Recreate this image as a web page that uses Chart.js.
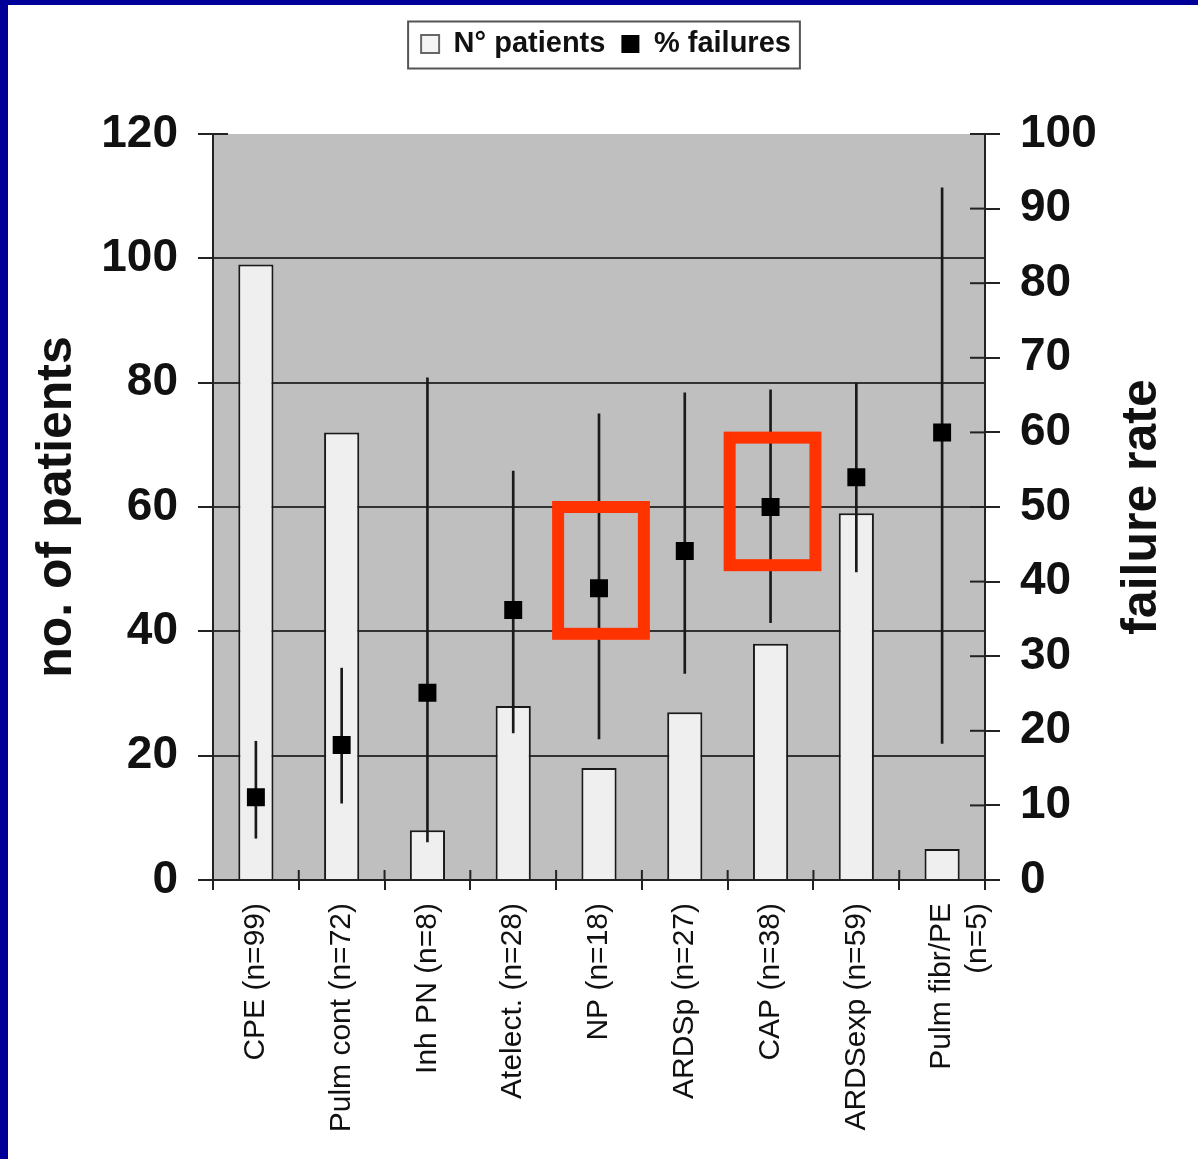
<!DOCTYPE html>
<html>
<head>
<meta charset="utf-8">
<script src="https://cdn.jsdelivr.net/npm/chart.js@4.4.1/dist/chart.umd.min.js"></script>
<style>
  html, body { margin: 0; padding: 0; background: #ffffff; width: 1198px; height: 1159px; overflow: hidden; }
  #wrap { position: relative; width: 1198px; height: 1159px; }
  #c { position: absolute; left: 0; top: 0; }
  .band-top { position: absolute; left: 0; top: 0; width: 1198px; height: 5px; background: #000099; }
  .band-left { position: absolute; left: 0; top: 0; width: 8px; height: 1159px; background: #000099; }
</style>
</head>
<body>
<div id="wrap">
  <canvas id="c" width="1198" height="1159"></canvas>
  <div class="band-top"></div>
  <div class="band-left"></div>
</div>
<script>
// ---------- data ----------
const categories = ['CPE (n=99)', 'Pulm cont (n=72)', 'Inh PN (n=8)', 'Atelect. (n=28)', 'NP (n=18)',
                    'ARDSp (n=27)', 'CAP (n=38)', 'ARDSexp (n=59)', ['Pulm fibr/PE', '(n=5)']];
const patients     = [99, 72, 8, 28, 18, 27, 38, 59, 5];
const failureRate  = [11.1, 18.1, 25.1, 36.2, 39.1, 44.1, 50.0, 54.0, 60.0];
const failureLow   = [5.6, 10.3, 5.1, 19.7, 18.9, 27.7, 34.5, 41.3, 18.3];
const failureHigh  = [18.6, 28.4, 67.3, 54.8, 62.5, 65.3, 65.7, 66.6, 92.8];
const leftTicks    = [0, 20, 40, 60, 80, 100, 120];
const rightTicks   = [0, 10, 20, 30, 40, 50, 60, 70, 80, 90, 100];
const seriesNames  = ['N° patients', '% failures'];
const axisTitles   = ['no. of patients', 'failure rate'];
// highlighted (red frame) categories and their frame range on the failure-rate axis
const highlightCategories = ['NP (n=18)', 'CAP (n=38)'];
const highlightLow  = [33.0, 42.2];
const highlightHigh = [50.0, 59.3];

const FONT = "'Liberation Sans', Arial, Helvetica, sans-serif";
Chart.defaults.font.family = FONT;
Chart.defaults.color = '#111';

const ranges = failureLow.map((l, i) => [l, failureHigh[i]]);

const decor = {
  id: 'decor',
  beforeDraw(chart) {
    const { ctx, chartArea: a } = chart;
    ctx.save();
    ctx.fillStyle = '#bfbfbf';
    ctx.fillRect(a.left, a.top, a.right - a.left, a.bottom - a.top);
    ctx.restore();
  },
  afterDraw(chart) {
    const { ctx, chartArea: a, scales } = chart;
    const seg = (x1, y1, x2, y2) => { ctx.beginPath(); ctx.moveTo(x1, y1); ctx.lineTo(x2, y2); ctx.stroke(); };
    ctx.save();
    ctx.strokeStyle = '#222';
    ctx.lineWidth = 2;
    // inner halves of the crossing tick marks
    scales.y1.ticks.forEach((t, i) => { const p = scales.y1.getPixelForTick(i); seg(a.right - 15, p, a.right, p); });
    const pTop = scales.y.getPixelForValue(leftTicks[leftTicks.length - 1]);
    seg(a.left, pTop, a.left + 15, pTop);
    for (let i = 0; i <= categories.length; i++) {
      const p = scales.x.getPixelForValue(i - 0.5);
      seg(p, a.bottom - 10, p, a.bottom);
    }
    ctx.restore();

    // legend frame
    const lg = chart.legend;
    if (lg && lg.legendHitBoxes && lg.legendHitBoxes.length) {
      const hb = lg.legendHitBoxes;
      const l = Math.min(...hb.map(h => h.left));
      const r = Math.max(...hb.map(h => h.left + h.width));
      const t = Math.min(...hb.map(h => h.top));
      const b = Math.max(...hb.map(h => h.top + h.height));
      ctx.save();
      ctx.strokeStyle = '#555';
      ctx.lineWidth = 2;
      ctx.strokeRect(l - 13, t - 8, (r - l) + 22, (b - t) + 18);
      ctx.restore();
    }

    // right axis title (reads bottom-to-top)
    ctx.save();
    ctx.translate(a.right + 157, (a.top + a.bottom) / 2);
    ctx.rotate(-Math.PI / 2);
    ctx.font = 'bold 50px ' + FONT;
    ctx.fillStyle = '#111';
    ctx.textAlign = 'center';
    ctx.textBaseline = 'middle';
    ctx.fillText(axisTitles[1], 0, 0);
    ctx.restore();

    // red highlight frames
    const half = (scales.x.getPixelForValue(1) - scales.x.getPixelForValue(0)) / 2;
    ctx.save();
    ctx.strokeStyle = '#ff3300';
    ctx.lineWidth = 12;
    highlightCategories.forEach((name, k) => {
      const idx = categories.findIndex(c => c === name);
      const xc = scales.x.getPixelForValue(idx) + 2;
      const yt = scales.y1.getPixelForValue(highlightHigh[k]);
      const yb = scales.y1.getPixelForValue(highlightLow[k]);
      ctx.strokeRect(xc - half, yt, 2 * half, yb - yt);
    });
    ctx.restore();
  }
};

new Chart(document.getElementById('c'), {
  data: {
    labels: categories,
    datasets: [
      { type: 'bar', label: seriesNames[0], data: patients, yAxisID: 'y',
        backgroundColor: '#efefef', borderColor: '#1a1a1a', borderWidth: 2,
        categoryPercentage: 1, barPercentage: 0.41, grouped: false, order: 3 },
      { type: 'bar', label: 'range', data: ranges, yAxisID: 'y1',
        backgroundColor: '#1a1a1a', borderWidth: 0, barThickness: 2, grouped: false, order: 2 },
      { type: 'line', label: seriesNames[1], data: failureRate, yAxisID: 'y1', showLine: false,
        pointStyle: 'rect', pointRadius: 12.7, pointHoverRadius: 12.7,
        pointBackgroundColor: '#000', pointBorderWidth: 0, order: 1 }
    ]
  },
  options: {
    responsive: false,
    animation: false,
    devicePixelRatio: 1,
    layout: { padding: { top: 13.5, left: 14, right: 0, bottom: 0 } },
    plugins: {
      tooltip: { enabled: false },
      subtitle: { display: true, text: '', weight: 500, font: { size: 10 }, padding: { top: 0, bottom: 53.5 } },
      legend: {
        position: 'top',
        labels: {
          font: { size: 29, weight: 'bold' },
          color: '#111',
          boxWidth: 18, boxHeight: 18, padding: 16,
          generateLabels: (chart) => [
            { text: chart.data.datasets[0].label, fillStyle: '#f4f4f4', strokeStyle: '#666', lineWidth: 2, hidden: false, datasetIndex: 0, fontColor: '#111' },
            { text: chart.data.datasets[2].label, fillStyle: '#000', strokeStyle: '#000', lineWidth: 0, hidden: false, datasetIndex: 2, fontColor: '#111' }
          ]
        }
      }
    },
    scales: {
      x: {
        type: 'category',
        offset: true,
        grid: { offset: true, drawOnChartArea: false, tickLength: 10, color: '#222', lineWidth: 2 },
        border: { color: '#222', width: 2 },
        ticks: { font: { size: 30 }, color: '#111', minRotation: 90, maxRotation: 90, autoSkip: false, padding: 13 },
        afterFit(s) { s.height = 279; }
      },
      y: {
        position: 'left',
        min: 0, max: 120,
        afterBuildTicks(s) { s.ticks = leftTicks.map(v => ({ value: v })); },
        ticks: { font: { size: 46, weight: 'bold' }, color: '#111', padding: 20 },
        grid: {
          color: (c) => (c.tick && (c.tick.value === 0 || c.tick.value === 120)) ? 'rgba(0,0,0,0)' : '#333',
          tickColor: '#222', lineWidth: 2, tickLength: 15
        },
        border: { color: '#222', width: 2 },
        title: { display: true, text: axisTitles[0], font: { size: 50, weight: 'bold' }, color: '#111', padding: { top: 13, bottom: 0 } },
        afterFit(s) { s.width = 199; }
      },
      y1: {
        position: 'right',
        min: 0, max: 100,
        afterBuildTicks(s) { s.ticks = rightTicks.map(v => ({ value: v })); },
        ticks: { font: { size: 46, weight: 'bold' }, color: '#111', padding: 20 },
        grid: { drawOnChartArea: false, color: '#222', tickColor: '#222', lineWidth: 2, tickLength: 15 },
        border: { color: '#222', width: 2 },
        afterFit(s) { s.width = 213; }
      }
    }
  },
  plugins: [decor]
});
</script>
</body>
</html>
